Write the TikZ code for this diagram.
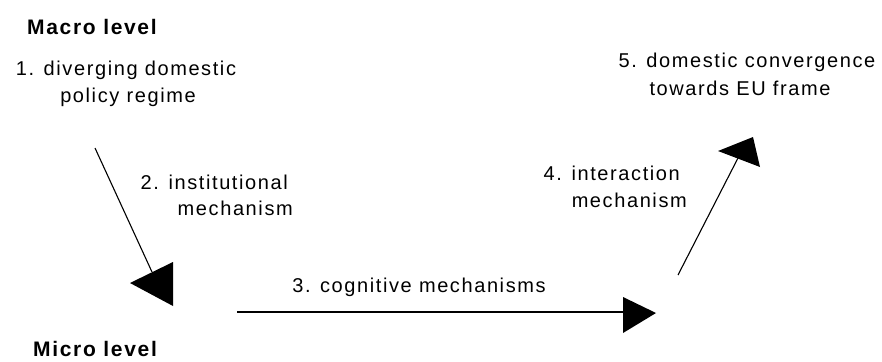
\documentclass[tikz,border=0pt]{standalone}
\usepackage{fontspec}
\setmainfont{Liberation Sans}[LetterSpace=8]
\begin{document}
\begin{tikzpicture}[x=1pt,y=-1pt,
  lbl/.style={inner sep=0pt,font=\fontsize{20}{25}\selectfont,align=center},
  lvl/.style={inner sep=0pt,font=\fontsize{21}{24}\selectfont\bfseries},
  conn/.style={line width=1.1pt},
  head/.style={fill=black}]
\useasboundingbox[fill=white] (0,0) rectangle (882,361);
\node[lvl,anchor=west] (macro) at (27,27) {Macro level};
\node[lvl,anchor=west] (micro) at (33,349) {Micro level};
\node[lbl] (n1a) at (126,70) {1. diverging domestic};
\node[lbl] (n1b) at (128,97) {policy regime};
\node[lbl,anchor=east] (n2a) at (288,182) {2. institutional};
\node[lbl,anchor=east] (n2b) at (293,208) {mechanism};
\node[lbl] (n3) at (419,287) {3. cognitive mechanisms};
\node[lbl,anchor=east] (n4a) at (680,173) {4. interaction};
\node[lbl,anchor=east] (n4b) at (687,200) {mechanism};
\node[lbl] (n5a) at (747,62) {5. domestic convergence};
\node[lbl] (n5b) at (740,88) {towards EU frame};
\coordinate (a1s) at (95,148);
\coordinate (a1e) at (152,272);
\coordinate (a3s) at (237,312);
\coordinate (a3e) at (623,312);
\coordinate (a4s) at (678,275);
\coordinate (a4e) at (738,158);
\draw[conn] (a1s) -- (a1e);
\draw[conn] (a3s) -- (a3e);
\draw[conn] (a4s) -- (a4e);
\fill[head] (130,283) -- (173,262) -- (173,306) -- cycle;
\fill[head] (623,297) -- (656,313) -- (623,333) -- cycle;
\fill[head] (718,151) -- (753,137) -- (760,167) -- cycle;
\end{tikzpicture}
\end{document}
